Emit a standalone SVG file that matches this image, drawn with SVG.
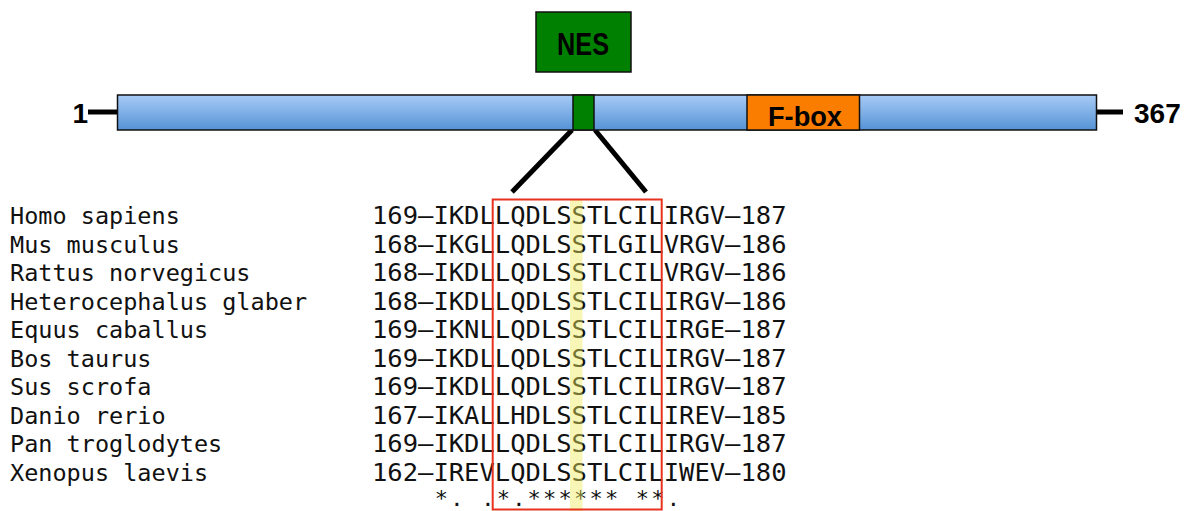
<svg xmlns="http://www.w3.org/2000/svg" width="1191" height="511" viewBox="0 0 1191 511">
<style>
.lbl{font-family:"Liberation Sans",Arial,sans-serif;font-weight:bold;fill:#000}
.name{font-family:"DejaVu Sans Mono","Liberation Mono",monospace;font-size:23.5px;fill:#111}
.seq{font-family:"DejaVu Sans Mono","Liberation Mono",monospace;font-size:25.5px;fill:#111}
.cons{font-family:"DejaVu Sans Mono","Liberation Mono",monospace;font-size:22px;fill:#111}
.box{stroke:#111;stroke-width:1.5}
.conn{stroke:#000;stroke-width:5;fill:none}
</style>
<defs>
<linearGradient id="blue" x1="0" y1="0" x2="0" y2="1">
<stop offset="0" stop-color="#a8cbf6"/>
<stop offset="1" stop-color="#5593d6"/>
</linearGradient>
</defs>
<rect width="1191" height="511" fill="#fff"/>
<g id="connectors">
<line class="conn" x1="88" y1="112" x2="118" y2="112"/>
<line class="conn" x1="1096" y1="112" x2="1123" y2="112"/>
<line class="conn" x1="572" y1="130" x2="512" y2="192"/>
<line class="conn" x1="595" y1="130" x2="646" y2="192"/>
</g>
<g id="protein">
<rect class="box" x="117.5" y="95" width="979" height="35" fill="url(#blue)"/>
<text class="lbl" x="88" y="122.5" font-size="28" text-anchor="end">1</text>
<text class="lbl" x="1134" y="122.5" font-size="28">367</text>
</g>
<g id="nes-site">
<rect class="box" x="573" y="95" width="21" height="35" fill="#008000"/>
</g>
<g id="nes">
<rect class="box" x="536" y="12" width="95" height="60" fill="#008000"/>
<text class="lbl" x="583" y="55" font-size="31" text-anchor="middle" textLength="52" lengthAdjust="spacingAndGlyphs">NES</text>
</g>
<g id="fbox">
<rect class="box" x="747" y="95" width="112.5" height="35" fill="#fa7d00"/>
<text class="lbl" x="805" y="126" font-size="27" text-anchor="middle" textLength="74" lengthAdjust="spacingAndGlyphs">F-box</text>
</g>
<g id="species">
<text class="name" x="10" y="224">Homo sapiens</text>
<text class="name" x="10" y="252.5">Mus musculus</text>
<text class="name" x="10" y="281">Rattus norvegicus</text>
<text class="name" x="10" y="309.5">Heterocephalus glaber</text>
<text class="name" x="10" y="338">Equus caballus</text>
<text class="name" x="10" y="366.5">Bos taurus</text>
<text class="name" x="10" y="395">Sus scrofa</text>
<text class="name" x="10" y="423.5">Danio rerio</text>
<text class="name" x="10" y="452">Pan troglodytes</text>
<text class="name" x="10" y="480.5">Xenopus laevis</text>
</g>
<g id="alignment">
<text class="seq" x="372" y="224">169–IKDLLQDLSSTLCILIRGV–187</text>
<text class="seq" x="372" y="252.5">168–IKGLLQDLSSTLGILVRGV–186</text>
<text class="seq" x="372" y="281">168–IKDLLQDLSSTLCILVRGV–186</text>
<text class="seq" x="372" y="309.5">168–IKDLLQDLSSTLCILIRGV–186</text>
<text class="seq" x="372" y="338">169–IKNLLQDLSSTLCILIRGE–187</text>
<text class="seq" x="372" y="366.5">169–IKDLLQDLSSTLCILIRGV–187</text>
<text class="seq" x="372" y="395">169–IKDLLQDLSSTLCILIRGV–187</text>
<text class="seq" x="372" y="423.5">167–IKALLHDLSSTLCILIREV–185</text>
<text class="seq" x="372" y="452">169–IKDLLQDLSSTLCILIRGV–187</text>
<text class="seq" x="372" y="480.5">162–IREVLQDLSSTLCILIWEV–180</text>
<text class="cons" x="373" y="506" textLength="307" lengthAdjust="spacing" xml:space="preserve">    *. .*.****** **.</text>
</g>
<g id="highlight">
<rect x="570" y="200" width="12.5" height="311" fill="#eeea60" fill-opacity="0.45"/>
<rect x="492.7" y="199.5" width="169" height="310" fill="none" stroke="#e8321e" stroke-width="2"/>
</g>
</svg>
